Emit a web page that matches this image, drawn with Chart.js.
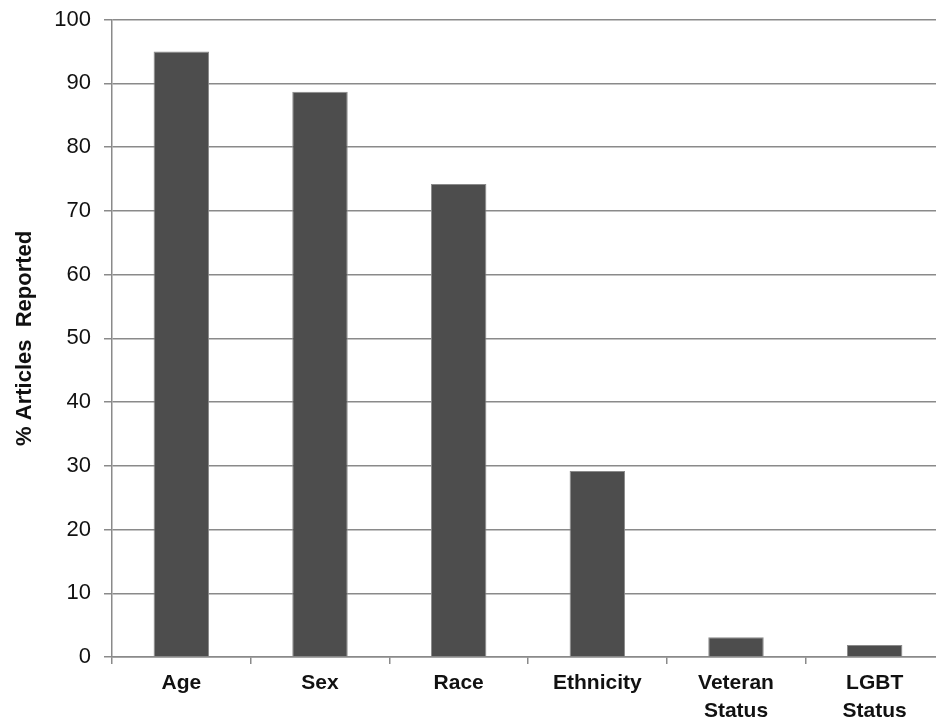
<!DOCTYPE html>
<html>
<head>
<meta charset="utf-8">
<script src="https://cdn.jsdelivr.net/npm/chart.js@4/dist/chart.umd.min.js"></script>
<style>
  html, body { margin: 0; padding: 0; background: #fff; overflow: hidden; }
  #wrap { width: 944px; height: 723px; }
</style>
</head>
<body>
<div id="wrap"><canvas id="articles"></canvas></div>
<script>
// data
const categories = ["Age", "Sex", "Race", "Ethnicity", ["Veteran", "Status"], ["LGBT", "Status"]];
const reported = [95.0, 88.7, 74.2, 29.2, 3.1, 1.9];
const yTicks = [0, 10, 20, 30, 40, 50, 60, 70, 80, 90, 100];

const ctx = document.getElementById("articles");

new Chart(ctx, {
  type: "bar",
  data: {
    labels: categories,
    datasets: [
      {
        label: "% Articles Reported",
        data: reported,
        backgroundColor: "#4d4d4d",
        borderColor: "#8a8a8a",
        borderWidth: 1,
        barPercentage: 0.4,
        categoryPercentage: 1,
      },
    ],
  },
  options: {
    animation: false,
    responsive: true,
    maintainAspectRatio: false,
    layout: {
      padding: { top: 19, right: 0, bottom: 0, left: 12 },
    },
    scales: {
      x: {
        grid: {
          offset: true,
          drawOnChartArea: false,
          color: "#8a8a8a",
          lineWidth: 1.5,
          tickLength: 7,
        },
        border: { color: "#8a8a8a", width: 1.5 },
        ticks: {
          color: "#111",
          padding: 6,
          maxRotation: 0,
          font: { family: "Liberation Sans, Arial", size: 21, weight: "bold", lineHeight: 1.3 },
        },
        afterFit: (scale) => {
          scale.height = 66;
        },
      },
      y: {
        min: 0,
        max: 100,
        afterBuildTicks: (scale) => {
          scale.ticks = yTicks.map((v) => ({ value: v }));
        },
        grid: {
          color: "#8a8a8a",
          lineWidth: 1.5,
          tickLength: 8,
        },
        border: { color: "#8a8a8a", width: 1.5 },
        ticks: {
          color: "#111",
          padding: 13,
          font: { family: "Liberation Sans, Arial", size: 22, lineHeight: 0.6 },
        },
        title: {
          display: true,
          text: "% Articles  Reported",
          color: "#111",
          font: { family: "Liberation Sans, Arial", size: 22, weight: "bold" },
          padding: { top: 0, bottom: 4 },
        },
        afterFit: (scale) => {
          scale.width = 100;
        },
      },
    },
    plugins: {
      legend: { display: false },
      tooltip: { enabled: false },
    },
  },
});
</script>
</body>
</html>
